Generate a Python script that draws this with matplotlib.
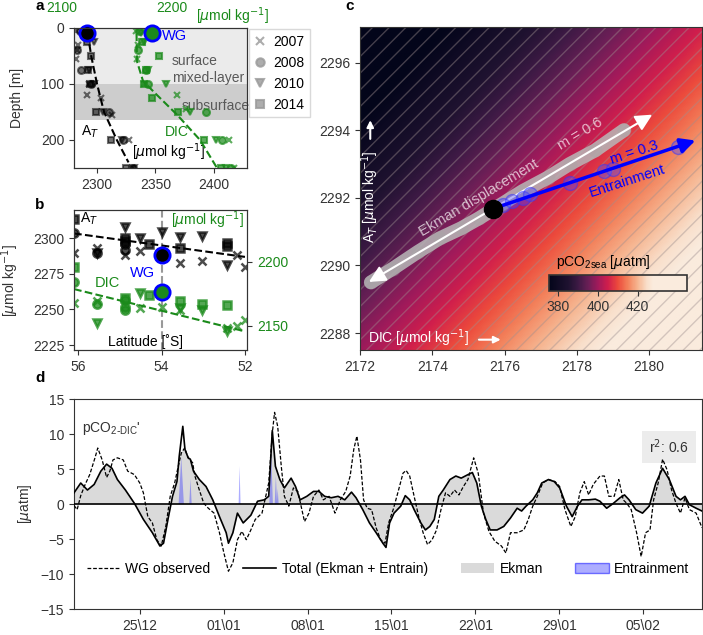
import numpy as np
import matplotlib.pyplot as plt
from matplotlib.colors import LinearSegmentedColormap
from matplotlib.patches import Rectangle, Patch
from matplotlib.lines import Line2D

plt.rcParams['font.family'] = ['Liberation Sans', 'DejaVu Sans']
plt.rcParams['font.size'] = 10
plt.rcParams['axes.edgecolor'] = '0.2'
plt.rcParams['xtick.color'] = '0.2'
plt.rcParams['ytick.color'] = '0.2'
plt.rcParams['xtick.labelcolor'] = '0.2'
plt.rcParams['ytick.labelcolor'] = '0.2'
plt.rcParams['axes.labelcolor'] = '0.2'
plt.rcParams['hatch.linewidth'] = 1.0

#%% data -- panel a (depth profiles)
years = ['2007', '2008', '2010', '2014']
year_marker = ['x', 'o', 'v', 's']
at_depth = [[5, 30, 40, 55, 100, 120, 125, 155, 200, 250],
            [5, 40, 75, 100, 150, 200, 250],
            [10, 25, 75, 100, 150, 200, 250],
            [25, 50, 75, 100, 150, 200, 250]]
at_prof = [[2282, 2284, 2283, 2282, 2293, 2291, 2303, 2313, 2327, 2330],
           [2285, 2283, 2286, 2295, 2310, 2322, 2331],
           [2290, 2297, 2293, 2297, 2305, 2321, 2332],
           [2291, 2295, 2292, 2294, 2299, 2312, 2325]]
dic_depth = [[5, 30, 55, 100, 120, 145, 200, 250],
             [5, 40, 75, 100, 150, 200, 250],
             [10, 25, 75, 100, 150, 200, 250],
             [25, 50, 75, 100, 125, 150, 200, 250]]
dic_prof = [[2160, 2162, 2161, 2168, 2201, 2210, 2253, 2258],
            [2163, 2162, 2170, 2172, 2230, 2246, 2255],
            [2165, 2168, 2172, 2190, 2214, 2240, 2250],
            [2166, 2183, 2170, 2168, 2176, 2202, 2228, 2245]]
at_fit_depth = [10, 50, 100, 150, 200, 240]
at_fit = [2292, 2295, 2300, 2306, 2317, 2327]
dic_fit_depth = [10, 60, 95, 120, 155, 200, 250]
dic_fit = [2160.5, 2161, 2167, 2181, 2201, 2224, 2241]
wg_depth = 10
wg_at_a = 2291.7
wg_dic_a = 2175.7

#%% data -- panel b (latitude)
at_lat = [[56.1, 55.56, 54.88, 54.52, 53.56, 53.04, 52.2, 52.0],
          [56.1, 55.56, 54.88, 54.88],
          [55.56, 54.88, 54.52, 54.0, 53.56, 53.04, 52.44],
          [56.1, 54.88, 54.88, 54.3, 53.56, 52.44, 52.44]]
at_lat_val = [[2289.4, 2293, 2288, 2291.5, 2282.4, 2284, 2288, 2280],
              [2303.5, 2290, 2292, 2296],
              [2290, 2308, 2300, 2304.5, 2301, 2302, 2281],
              [2314, 2298, 2300, 2296, 2293, 2295, 2297]]
dic_lat = [[56.1, 55.56, 54.52, 54.0, 53.56, 52.44, 52.2, 52.0],
           [56.1, 55.56, 54.88, 54.88, 54.88],
           [55.56, 54.52, 53.56, 53.04, 52.44],
           [56.1, 54.88, 54.3, 53.56, 53.04, 52.44]]
dic_lat_val = [[2168, 2169, 2164, 2164.5, 2162, 2148.6, 2149.5, 2154.7],
               [2184, 2167, 2170, 2165, 2162.5],
               [2152, 2175.8, 2164, 2162.5, 2145.6],
               [2195.6, 2172, 2174, 2169.5, 2167, 2166.4]]
lat_fit = [56.1, 52.0]
at_lat_fit = [2303.5, 2287]
dic_lat_fit = [2178.7, 2145.6]
wg_lat = 54.0
wg_at_b = 2288
wg_dic_b = 2176.8

#%% data -- panel c (DIC/AT space)
pco2_ref, dic_ref, at_ref = 400.0, 2175.68, 2291.68
dpco2_ddic, dpco2_dat = 4.2, -3.6
cbar_vals = [375, 385, 390, 395, 400, 405, 410, 415, 420, 425, 428, 445]
cbar_cols = ['#03051a', '#1f1230', '#3e1a45', '#6a1f56', '#a11a5b', '#d01e4c',
             '#ec4a3c', '#f3805a', '#f6b48f', '#f9e0cc', '#faebdd', '#faebdd']
ekman_dic = [2172.3, 2172.9, 2173.6, 2174.2, 2174.8, 2175.3, 2175.9, 2176.5, 2177.2, 2177.8, 2178.5, 2179.3]
ekman_at = [2289.5, 2289.9, 2290.4, 2290.8, 2291.1, 2291.4, 2291.8, 2292.2, 2292.6, 2293.0, 2293.4, 2294.0]
ekman_end_lo = (2172.18, 2289.47)
ekman_end_hi = (2180.15, 2294.5)
entr_dic = [2175.95, 2176.2, 2176.5, 2176.7, 2177.8, 2178.76, 2179.0, 2180.8]
entr_at = [2291.8, 2291.9, 2292.0, 2292.1, 2292.45, 2292.8, 2292.85, 2293.5]
entr_end = (2181.35, 2293.72)

#%% data -- panel d (time series, days since 01 Jan)
t_tot = [-12.50, -11.94, -11.38, -10.82, -10.26, -9.78, -9.33, -8.88, -8.21, -7.46,
         -6.71, -5.96, -5.33, -5.03, -4.66, -4.28, -3.91, -3.72, -3.42, -3.24,
         -2.97, -2.79, -2.53, -2.04, -1.48, -0.92, -0.36, 0.20, 0.39, 0.76,
         1.14, 1.62, 2.26, 2.82, 3.38, 3.75, 4.05, 4.31, 4.68, 5.06,
         5.62, 5.99, 6.37, 6.93, 7.49, 7.94, 8.42, 8.98, 9.54, 10.10,
         10.66, 11.04, 11.60, 12.16, 12.72, 13.28, 13.54, 13.84, 14.21, 14.77,
         15.15, 15.52, 15.89, 16.45, 16.83, 17.20, 17.57, 17.95, 18.32, 18.88,
         19.37, 19.82, 20.38, 20.75, 21.12, 21.50, 21.87, 22.24, 22.81, 23.37,
         23.93, 24.49, 24.86, 25.23, 25.79, 26.17, 26.54, 27.10, 27.59, 28.04,
         28.60, 29.08, 29.53, 29.90, 30.46, 31.02, 31.40, 31.96, 32.52, 33.08,
         33.45, 33.83, 34.39, 34.95, 35.51, 36.07, 36.63, 37.19, 37.75, 38.12,
         38.50, 38.87, 39.43, 39.92]
total = [1.6, 3.0, 2.0, 2.8, 4.7, 5.7, 5.1, 3.5, 2.0, 0.1,
         -2.2, -4.1, -6.0, -5.6, -2.2, 1.1, 3.2, 6.8, 11.1, 7.8,
         6.6, 6.4, 4.7, 3.5, 2.5, 0.6, -1.8, -4.1, -5.6, -4.1,
         -1.3, -2.7, -1.6, 0.4, 0.6, 1.1, 10.5, 5.4, 3.5, 2.3,
         3.7, 2.5, 0.6, 1.1, 1.8, 1.8, 1.1, 0.9, 1.1, 0.6,
         1.7, 0.9, -0.8, -2.7, -4.1, -5.6, -6.2, -2.7, -1.3, -0.3,
         1.2, 0.6, -0.8, -2.7, -3.7, -3.2, -2.2, 1.1, 2.0, 3.5,
         4.0, 3.7, 4.2, 4.5, 3.0, -0.3, -2.2, -3.7, -3.7, -3.2,
         -2.0, -0.6, -1.0, -0.3, 0.6, 1.6, 3.0, 3.5, 3.2, 2.3,
         -0.3, -1.8, -0.3, 0.6, 0.6, 0.7, 0.4, -0.6, 0.1, 0.9,
         1.3, 0.6, -0.8, -1.3, -0.3, 3.0, 5.1, 3.5, 1.1, 0.6,
         1.1, -0.1, -0.6, -1.0]
ekman = [1.6, 3.0, 2.0, 2.8, 4.7, 5.7, 5.1, 3.5, 2.0, 0.1,
         -2.2, -4.1, -6.0, -5.6, -2.2, 1.1, 3.2, 6.8, 7.9, 7.8,
         6.6, 6.4, 4.7, 3.5, 2.5, 0.6, -1.8, -4.1, -5.6, -4.1,
         -1.3, -2.7, -1.6, 0.4, 0.6, 1.1, 9.6, 5.4, 3.5, 2.3,
         3.7, 2.5, 0.6, 1.1, 1.8, 1.8, 1.1, 0.9, 1.1, 0.6,
         1.7, 0.9, -0.8, -2.7, -4.1, -5.6, -6.2, -2.7, -1.3, -0.3,
         1.2, 0.6, -0.8, -2.7, -3.7, -3.2, -2.2, 1.1, 2.0, 3.5,
         4.0, 3.7, 4.2, 4.5, 3.0, -0.3, -2.2, -3.7, -3.7, -3.2,
         -2.0, -0.6, -1.0, -0.3, 0.6, 1.6, 3.0, 3.5, 3.2, 2.3,
         -0.3, -1.8, -0.3, 0.6, 0.6, 0.7, 0.4, -0.6, 0.1, 0.9,
         1.3, 0.6, -0.8, -1.3, -0.3, 3.0, 5.1, 3.5, 1.1, 0.6,
         1.1, -0.1, -0.6, -1.0]
t_obs = [-12.50, -12.24, -11.94, -11.57, -11.19, -10.75, -10.52, -10.15, -9.78, -9.51,
         -9.25, -8.88, -8.39, -8.02, -7.46, -7.01, -6.71, -6.34, -5.96, -5.59,
         -5.22, -4.84, -4.47, -4.10, -3.80, -3.54, -3.27, -2.97, -2.60, -2.41,
         -2.04, -1.67, -1.29, -0.81, -0.36, 0.01, 0.39, 0.76, 1.14, 1.51,
         1.88, 2.26, 2.63, 3.19, 3.75, 4.05, 4.24, 4.50, 4.80, 5.06,
         5.43, 5.81, 6.18, 6.74, 7.11, 7.49, 7.94, 8.31, 8.79, 9.28,
         9.73, 10.18, 10.55, 10.85, 11.11, 11.41, 11.67, 11.97, 12.34, 12.72,
         13.09, 13.46, 13.76, 14.14, 14.59, 14.96, 15.22, 15.52, 15.89, 16.27,
         16.64, 17.01, 17.39, 17.76, 18.13, 18.51, 18.88, 19.26, 19.63, 20.00,
         20.38, 20.86, 21.24, 21.68, 22.13, 22.62, 23.18, 23.55, 23.93, 24.49,
         25.05, 25.42, 25.79, 26.17, 26.62, 27.10, 27.66, 28.04, 28.48, 28.97,
         29.34, 29.72, 30.09, 30.46, 30.84, 31.40, 31.77, 32.14, 32.59, 32.97,
         33.34, 33.64, 34.01, 34.46, 34.84, 35.21, 35.58, 35.88, 36.26, 36.63,
         37.00, 37.38, 37.75, 38.12, 38.50, 38.87, 39.43, 39.92]
observed = [-0.2, -0.8, 1.2, 2.8, 4.2, 6.6, 8.0, 6.3, 3.8, 4.7,
            6.3, 6.6, 6.3, 4.7, 4.2, 3.0, 1.6, -1.8, -2.7, -5.1,
            -6.0, -3.2, 1.1, 3.0, 5.4, 7.3, 8.0, 6.6, 5.9, 4.0,
            2.0, 0.1, -0.6, -1.3, -4.1, -7.0, -9.6, -8.4, -5.1, -3.9,
            -5.1, -3.7, -2.2, -1.3, 3.0, 10.1, 13.1, 11.1, 5.4, 1.1,
            -0.3, 2.3, 1.8, -2.5, -1.3, 1.1, 2.0, 0.6, 1.1, -1.3,
            0.6, 1.8, 4.0, 7.8, 9.7, 6.3, 0.6, -0.6, -0.8, -3.4,
            -5.1, -5.6, -2.7, -0.8, 2.0, 4.4, 4.8, 4.0, 1.1, -1.8,
            -4.1, -5.8, -5.1, -3.7, -0.8, 1.6, 1.1, 2.0, 1.3, 2.5,
            3.5, 6.6, 4.4, -1.3, -3.9, -5.3, -6.0, -7.0, -4.1, -4.1,
            -3.7, -2.2, -0.3, 1.1, 3.0, 3.5, 3.2, 2.5, -0.8, -3.2,
            -1.8, 1.6, 3.2, 1.3, 2.8, 4.0, 4.0, 1.1, 1.1, 3.5,
            0.6, 0.1, -0.8, -4.1, -7.5, -4.1, -3.7, 0.6, 3.0, 6.4,
            4.9, 2.0, 0.1, -1.3, 0.9, -0.8, -1.3, -3.4]
entr_t = [-3.55, -2.78, 1.32, 3.95, 4.35, 4.50]
entr_h = [6.7, 3.6, 5.4, 8.0, 4.0, 2.2]
entr_w = [0.22, 0.10, 0.08, 0.15, 0.10, 0.08]
date_ticks = [-7, 0, 7, 14, 21, 28, 35]
date_labels = ['25\\12', '01\\01', '08\\01', '15\\01', '22\\01', '29\\01', '05\\02']

#%% figure
fig = plt.figure(figsize=(7.03, 6.35), dpi=100)
green = '#1a8a1a'

# ---- panel a
axa = fig.add_axes([0.1053, 0.7354, 0.2461, 0.2209])
axa.axhspan(0, 100, color='#ebebeb', zorder=0, lw=0)
axa.axhspan(100, 165, color='#cdcdcd', zorder=0, lw=0)
axa2 = axa.twiny()
for i in range(len(years)):
    mk = year_marker[i]
    axa.plot(at_prof[i], at_depth[i], mk, color='k', alpha=0.55, ms=5, mew=1.5, ls='none')
    axa2.plot(dic_prof[i], dic_depth[i], mk, color=green, alpha=0.7, ms=5, mew=1.5, ls='none')
axa.plot(at_fit, at_fit_depth, '--', color='k', lw=1.5)
axa2.plot(dic_fit, dic_fit_depth, '--', color=green, lw=1.5)
axa.plot(wg_at_a, wg_depth, 'o', ms=11, mfc='k', mec='blue', mew=2, zorder=6, clip_on=False)
axa2.plot(wg_dic_a, wg_depth, 'o', ms=11, mfc=green, mec='blue', mew=2, zorder=6, clip_on=False)
axa.set_xlim(2280.3, 2428.6)
axa2.set_xlim(2098, 2271)
axa.set_ylim(250, 0)
axa.set_xticks([2300, 2350, 2400])
axa.set_yticks([0, 100, 200])
axa2.set_xticks([])
axa.set_ylabel('Depth [m]')
axa.yaxis.set_label_coords(-0.289, 0.5)
axa.text(2355.8, 15, 'WG', color='blue', va='center', fontsize=10.5)
axa.text(0.566, 0.70, 'surface\nmixed-layer', transform=axa.transAxes, color='0.35',
         va='center', linespacing=1.3)
axa.text(0.624, 0.44, 'subsurface', transform=axa.transAxes, color='0.35', va='center')
axa.text(2286, 185, 'A$_T$', color='k', va='center')
axa.text(2358, 185, 'DIC', color=green, va='center')
axa.text(2361, 222, r'[$\mu$mol kg$^{-1}$]', color='k', va='center', ha='center')
fig.text(62 / 703, 1 - 8 / 635, '2100', color=green, ha='center', va='center')
fig.text(172 / 703, 1 - 8 / 635, '2200', color=green, ha='center', va='center')
fig.text(233 / 703, 1 - 16 / 635, r'[$\mu$mol kg$^{-1}$]', color=green, ha='center', va='center')
leg_handles = [Line2D([], [], marker=m, ls='none', color='0.6', ms=6, mew=1.5, alpha=0.8)
               for m in year_marker]
axa.legend(leg_handles, years, loc='upper left', bbox_to_anchor=(1.005, 1.0),
           handlelength=0.8, handletextpad=0.5, borderpad=0.4, labelspacing=0.5,
           borderaxespad=0.1, fancybox=False, framealpha=1, edgecolor='0.85')

# ---- panel b
axb = fig.add_axes([0.1053, 0.4488, 0.2461, 0.2205])
axb2 = axb.twinx()
axb.axvline(wg_lat, color='0.6', ls='--', lw=1.5, zorder=1)
for i in range(len(years)):
    mk = year_marker[i]
    axb.plot(at_lat[i], at_lat_val[i], mk, color='k', alpha=0.7, ms=6, mew=1.8, ls='none')
    axb2.plot(dic_lat[i], dic_lat_val[i], mk, color=green, alpha=0.75, ms=6, mew=1.8, ls='none')
axb.plot(lat_fit, at_lat_fit, '--', color='k', lw=1.5)
axb2.plot(lat_fit, dic_lat_fit, '--', color=green, lw=1.5)
axb.plot(wg_lat, wg_at_b, 'o', ms=11, mfc='k', mec='blue', mew=2, zorder=6)
axb2.plot(wg_lat, wg_dic_b, 'o', ms=11, mfc=green, mec='blue', mew=2, zorder=6)
axb.set_xlim(56.1, 51.95)
axb.set_ylim(2221.5, 2320)
axb2.set_ylim(2131, 2240.6)
axb.set_xticks([56, 54, 52])
axb.set_yticks([2225, 2250, 2275, 2300])
axb2.set_yticks([2150, 2200])
axb2.tick_params(axis='y', labelcolor=green)
axb.set_ylabel(r'[$\mu$mol kg$^{-1}$]')
axb.yaxis.set_label_coords(-0.305, 0.5)
axb.text(55.96, 2314, 'A$_T$', color='k', va='center')
axb.text(0.985, 0.93, r'[$\mu$mol kg$^{-1}$]', transform=axb.transAxes, color=green,
         ha='right', va='center')
axb.text(54.45, 2275.4, 'WG', color='blue', ha='center', va='center', fontsize=10.5)
axb.text(55.31, 2268.3, 'DIC', color=green, ha='center', va='center', fontsize=10.5)
axb.text(0.416, 0.01, 'Latitude [˚S]', transform=axb.transAxes, ha='center', va='bottom',
         color='k')

# ---- panel c
axc = fig.add_axes([0.5121, 0.4488, 0.486, 0.5087])
xl, yl = (2172, 2181.45), (2287.5, 2297.05)
cmap = LinearSegmentedColormap.from_list(
    'pco2', [((v - cbar_vals[0]) / (cbar_vals[-1] - cbar_vals[0]), c)
             for v, c in zip(cbar_vals, cbar_cols)])
gd, ga = np.meshgrid(np.linspace(xl[0], xl[1], 300), np.linspace(yl[0], yl[1], 300))
field = pco2_ref + dpco2_ddic * (gd - dic_ref) + dpco2_dat * (ga - at_ref)
im = axc.imshow(field, extent=[xl[0], xl[1], yl[0], yl[1]], origin='lower', aspect='auto',
                cmap=cmap, vmin=cbar_vals[0], vmax=cbar_vals[-1], zorder=0)
axc.add_patch(Rectangle((0, 0), 1, 1, transform=axc.transAxes, facecolor='none',
                        edgecolor=(0.62, 0.56, 0.56, 0.42), hatch='//', lw=0, zorder=1))
axc.plot(ekman_dic, ekman_at, '-', color='0.72', lw=10, alpha=0.85, solid_capstyle='round', zorder=2)
axc.plot(ekman_dic, ekman_at, 'o', color='0.65', ms=10, alpha=0.35, mew=0, zorder=2)
for end in (ekman_end_lo, ekman_end_hi):
    axc.annotate('', xy=end, xytext=(dic_ref, at_ref),
                 arrowprops=dict(arrowstyle='-|>', color='white', lw=1.5, mutation_scale=25),
                 zorder=3)
axc.plot(entr_dic, entr_at, 'o', ms=10, mfc=(0.3, 0.3, 1, 0.4), mec=(0.2, 0.2, 1, 0.5), zorder=4)
axc.annotate('', xy=entr_end, xytext=(dic_ref, at_ref),
             arrowprops=dict(arrowstyle='-|>', color='blue', lw=2.5, mutation_scale=22),
             zorder=5)
axc.plot(dic_ref, at_ref, 'o', color='k', ms=13, zorder=6)
axc.text(2175.3, 2292.0, 'Ekman displacement', color='white', alpha=0.7, rotation=31,
         ha='center', va='center', fontsize=10.5, zorder=7)
axc.text(2178.1, 2293.9, 'm = 0.6', color='white', alpha=0.7, rotation=31,
         ha='center', va='center', fontsize=10.5, zorder=7)
axc.text(2179.6, 2293.35, 'm = 0.3', color='blue', rotation=18,
         ha='center', va='center', fontsize=10.5, zorder=7)
axc.text(2179.4, 2292.5, 'Entrainment', color='blue', rotation=18,
         ha='center', va='center', fontsize=10.5, zorder=7)
axc.text(0.03, 0.475, r'A$_T$ [$\mu$mol kg$^{-1}$]', transform=axc.transAxes, color='white',
         rotation=90, ha='center', va='center')
axc.annotate('', xy=(0.03, 0.72), xytext=(0.03, 0.645), xycoords='axes fraction',
             arrowprops=dict(arrowstyle='-|>', color='white', lw=1.5, mutation_scale=10))
axc.text(0.022, 0.037, r'DIC [$\mu$mol kg$^{-1}$]', transform=axc.transAxes, color='white',
         ha='left', va='center')
axc.annotate('', xy=(0.42, 0.032), xytext=(0.34, 0.032), xycoords='axes fraction',
             arrowprops=dict(arrowstyle='-|>', color='white', lw=1.5, mutation_scale=10))
axc.set_xlim(*xl)
axc.set_ylim(*yl)
axc.set_xticks([2172, 2174, 2176, 2178, 2180])
axc.set_yticks([2288, 2290, 2292, 2294, 2296])
cax = axc.inset_axes([0.552, 0.184, 0.405, 0.048])
cb = fig.colorbar(im, cax=cax, orientation='horizontal', ticks=[380, 400, 420])
cb.outline.set_edgecolor('0.2')
cb.outline.set_linewidth(1.2)
cax.text(0.05, 1.25, r'pCO$_{\mathregular{2sea}}$ [$\mu$atm]', transform=cax.transAxes,
         ha='left', va='bottom', color='k')

# ---- panel d
axd = fig.add_axes([0.1053, 0.0409, 0.8933, 0.3307])
axd.fill_between(t_tot, 0, ekman, color='#dadada', lw=0, zorder=1)
for t0, h, w in zip(entr_t, entr_h, entr_w):
    axd.fill([t0 - w, t0, t0 + w], [0, h, 0], color=(0.2, 0.2, 1, 0.4), lw=0, zorder=2)
axd.axhline(0, color='k', lw=1.2, zorder=3)
axd.plot(t_obs, observed, color='k', lw=0.9, dashes=(3, 1.5), zorder=4)
axd.plot(t_tot, total, color='k', lw=1.2, zorder=5)
axd.set_xlim(-12.5, 39.92)
axd.set_ylim(-15, 15)
axd.set_yticks([-15, -10, -5, 0, 5, 10, 15])
axd.set_xticks(date_ticks)
axd.set_xticklabels(date_labels)
axd.set_ylabel(r'[$\mu$atm]')
axd.yaxis.set_label_coords(-0.064, 0.5)
axd.text(0.013, 0.86, r"pCO$_{\mathregular{2\text{-}DIC}}$'", transform=axd.transAxes,
         ha='left', va='center', color='0.2')
axd.text(0.947, 0.771, 'r$^2$: 0.6', transform=axd.transAxes, ha='center', va='center',
         color='0.2', bbox=dict(facecolor='#ececec', edgecolor='none', pad=5))
d_handles = [Line2D([], [], color='k', lw=0.9, dashes=(3, 1.5)),
             Line2D([], [], color='k', lw=1.2),
             Patch(facecolor='#dadada', edgecolor='none'),
             Patch(facecolor=(0.2, 0.2, 1, 0.4), edgecolor=(0, 0, 1, 0.5))]
axd.legend(d_handles, ['WG observed', 'Total (Ekman + Entrain)', 'Ekman', 'Entrainment'],
           ncol=4, loc='lower left', bbox_to_anchor=(0.0, 0.10, 1.0, 0.13), mode='expand',
           frameon=False, handlelength=2.4, handletextpad=0.4)

# panel letters
for lab, x, y in [('a', 40, 6), ('b', 40, 205), ('c', 350, 6), ('d', 40, 378)]:
    fig.text(x / 703, 1 - y / 635, lab, fontweight='bold', fontsize=11, ha='center', va='center')

fig.savefig('out.png', dpi=100)
